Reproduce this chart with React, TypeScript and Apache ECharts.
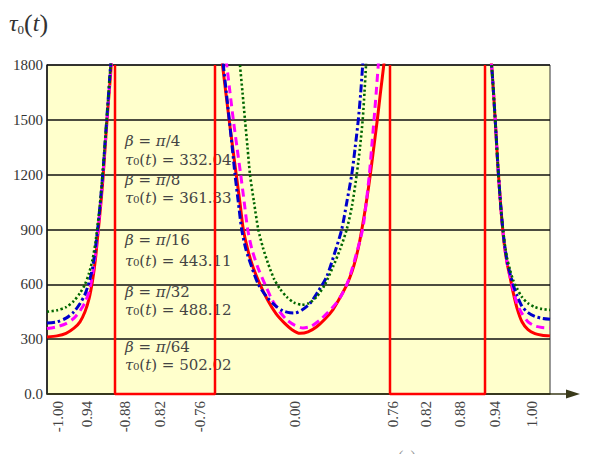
import React, { useEffect, useRef } from "react";
import * as echarts from "echarts";

// Abscissa runs along the plot as a 0..100 position scale; tick labels are placed on it.
const tickPos = [2.19, 7.95, 15.51, 22.47, 30.42, 49.3, 68.79, 75.35, 82.11, 89.07, 96.42];
const tickText = ["-1.00", "0.94", "-0.88", "0.82", "-0.76", "0.00", "0.76", "0.82", "0.88", "0.94", "1.00"];

const yTicks = [0, 300, 600, 900, 1200, 1500, 1800];

// minimum of each curve, also printed in the annotations
const betaLabels = ["π/4", "π/8", "π/16", "π/32", "π/64"];
const tauMin = [332.04, 361.33, 443.11, 488.12, 502.02];

// left branch
const leftS = [0, 1.99, 3.78, 5.37, 6.56, 7.55, 8.35, 9.05, 9.64, 10.14, 10.64, 11.13, 11.63, 12.13, 12.62, 13.12];
const redLeft = [312, 318, 332, 360, 395, 450, 520, 620, 740, 880, 1020, 1180, 1380, 1570, 1740, 1950];
const magentaLeft = [358, 368, 385, 415, 455, 500, 560, 650, 770, 900, 1040, 1200, 1390, 1580, 1760, 1960];
const blueLeft = [388, 395, 415, 450, 495, 545, 610, 690, 800, 920, 1060, 1220, 1410, 1600, 1790, 1980];
const greenLeft = [450, 458, 475, 510, 552, 600, 660, 735, 830, 940, 1070, 1230, 1410, 1600, 1790, 1980];

// central well
const redMidS = [34.49, 34.89, 35.59, 36.28, 36.98, 37.67, 38.37, 39.03, 39.96, 40.95, 42.34, 43.94, 45.53, 47.32, 48.71, 50.3, 51.89, 53.62, 55.27, 56.86, 58.25, 59.64, 60.64, 61.43, 62.13, 62.72, 63.32, 63.92, 64.51, 65.11, 65.71, 66.3, 67.0, 67.3];
const redMid = [1900, 1800, 1640, 1485, 1335, 1190, 1045, 900, 785, 695, 600, 510, 440, 385, 352, tauMin[0], 340, 368, 410, 462, 527, 600, 670, 745, 830, 920, 1020, 1130, 1250, 1380, 1510, 1650, 1810, 1900];
const magentaMidS = [35.29, 35.73, 36.38, 37.04, 37.77, 38.51, 39.21, 39.9, 40.76, 41.95, 43.34, 44.67, 46.12, 47.71, 49.3, 50.89, 52.48, 54.27, 55.86, 57.59, 58.84, 59.9, 60.83, 61.63, 62.32, 62.88, 63.48, 64.08, 64.55, 65.01, 65.45, 65.86, 66.06];
const magentaMid = [1900, 1800, 1650, 1500, 1350, 1200, 1050, 900, 790, 690, 600, 520, 455, 405, 375, tauMin[1], 370, 405, 447, 500, 555, 620, 700, 780, 850, 920, 1050, 1200, 1350, 1500, 1650, 1800, 1870];
const blueMidS = [34.69, 35.05, 35.65, 36.24, 36.82, 37.38, 38.03, 38.71, 39.56, 40.7, 42.01, 43.68, 45.33, 46.92, 48.31, 49.3, 50.69, 52.29, 53.88, 55.61, 57.06, 58.59, 59.54, 60.58, 61.27, 61.89, 62.37, 62.76, 62.98];
const blueMid = [1900, 1800, 1650, 1500, 1350, 1200, 1050, 900, 790, 695, 600, 532, 485, 455, 444, tauMin[2], 460, 496, 560, 642, 760, 900, 1040, 1200, 1350, 1500, 1650, 1800, 1880];
const greenMidS = [38.17, 38.37, 38.87, 39.36, 39.86, 40.36, 41.15, 42.01, 42.94, 43.94, 45.13, 46.32, 47.71, 49.1, 50.64, 52.09, 53.62, 55.27, 56.86, 58.25, 59.58, 60.64, 61.57, 62.23, 62.76, 63.12, 63.42, 63.58];
const greenMid = [1900, 1800, 1650, 1500, 1350, 1200, 1050, 900, 800, 715, 630, 575, 530, 500, tauMin[3], 497, 532, 600, 696, 790, 900, 1030, 1200, 1350, 1500, 1650, 1800, 1880];

// right branch
const rightS = [87.87, 88.47, 89.07, 89.66, 90.26, 90.86, 91.45, 92.05, 92.64, 93.44, 94.43, 95.63, 97.02, 98.41, 100];
const redRight = [1950, 1770, 1517, 1240, 1010, 830, 720, 640, 560, 470, 395, 352, 330, 322, 318];
const magentaRight = [1950, 1770, 1517, 1240, 1010, 830, 720, 645, 575, 495, 440, 395, 372, 364, 361];
const blueRight = [1950, 1770, 1517, 1240, 1010, 840, 730, 660, 600, 540, 480, 445, 424, 414, 409];
const greenRight = [1950, 1770, 1517, 1240, 1010, 850, 745, 680, 625, 578, 530, 496, 475, 465, 460];

// red frames marking the excluded intervals
const boxSpans = [
  [13.52, 33.4],
  [68.19, 87.08],
];

const zip = (xs: number[], ys: number[]) => xs.map((x, i) => [x, ys[i]]);

const curveStyles = [
  { color: "#FF0000", width: 3, type: "solid" as any },
  { color: "#FF00FF", width: 3, type: [8, 5] as any },
  { color: "#0000CC", width: 3, type: [8, 3, 2.5, 3] as any },
  { color: "#006600", width: 2.6, type: [2.2, 2.4] as any },
];

const curveSegments = [
  [zip(leftS, redLeft), zip(redMidS, redMid), zip(rightS, redRight)],
  [zip(leftS, magentaLeft), zip(magentaMidS, magentaMid), zip(rightS, magentaRight)],
  [zip(leftS, blueLeft), zip(blueMidS, blueMid), zip(rightS, blueRight)],
  [zip(leftS, greenLeft), zip(greenMidS, greenMid), zip(rightS, greenRight)],
];

const annBetaY = [141, 180, 240, 292, 347];
const annTauY = [160, 198, 261, 310, 365];

export default function App() {
  const ref = useRef<HTMLDivElement>(null);

  useEffect(() => {
    if (!ref.current) return;
    const chart = echarts.init(ref.current, undefined, { renderer: "svg" });

    const series: any[] = [];
    curveSegments.forEach((segs, ci) => {
      segs.forEach((data) => {
        series.push({
          type: "line",
          data,
          showSymbol: false,
          symbol: "none",
          smooth: 0.25,
          lineStyle: curveStyles[ci],
          z: 3,
        });
      });
    });
    boxSpans.forEach(([a, b]) => {
      series.push({
        type: "line",
        data: [
          [a, 1800],
          [a, 0],
          [b, 0],
          [b, 1800],
        ],
        symbol: "none",
        clip: false,
        lineStyle: { color: "#FF0000", width: 2.5 },
        z: 4,
      });
    });

    const annFont = "'DejaVu Serif', serif";
    const annRich = {
      i: { fontStyle: "italic", fontFamily: annFont, fontSize: 15, lineHeight: 16, fill: "#444" },
      r: { fontFamily: annFont, fontSize: 15, lineHeight: 16, fill: "#444" },
    };
    const annotations: any[] = [];
    betaLabels.forEach((b, k) => {
      const [num, den] = b.split("/");
      annotations.push({
        type: "text",
        x: 125,
        y: annBetaY[k],
        z: 1,
        style: {
          text: `{i|β}{r| = }{i|${num}}{r|/${den}}`,
          rich: annRich,
          verticalAlign: "middle",
        },
      });
      annotations.push({
        type: "text",
        x: 125,
        y: annTauY[k],
        z: 1,
        style: {
          text: `{i|τ}{r|₀(}{i|t}{r|) = ${tauMin[k].toFixed(2)}}`,
          rich: annRich,
          verticalAlign: "middle",
        },
      });
    });

    chart.setOption({
      animation: false,
      backgroundColor: "#ffffff",
      grid: {
        left: 47,
        right: 40,
        top: 65,
        bottom: 60,
        show: true,
        backgroundColor: "#FFFFCC",
        borderColor: "#333",
        borderWidth: 1,
      },
      xAxis: {
        type: "value",
        min: 0,
        max: 100,
        splitLine: { show: false },
        axisTick: { show: false },
        axisLine: { show: true, lineStyle: { color: "#3a3a1a", width: 1.5 } },
        axisLabel: {
          customValues: tickPos,
          rotate: 90,
          margin: 7,
          fontFamily: "'Liberation Serif', serif",
          fontSize: 15,
          color: "#444",
          formatter: (v: number) => {
            const i = tickPos.findIndex((p) => Math.abs(p - v) < 1e-6);
            return i >= 0 ? tickText[i] : "";
          },
        },
      },
      yAxis: {
        type: "value",
        min: 0,
        max: 1800,
        interval: 300,
        axisTick: { show: false },
        axisLine: { show: true, lineStyle: { color: "#111", width: 1.5 } },
        splitLine: { show: true, lineStyle: { color: "#111", width: 1.5 } },
        axisLabel: {
          margin: 4,
          fontFamily: "'Liberation Serif', serif",
          fontSize: 15,
          color: "#333",
          customValues: yTicks,
          formatter: (v: number) => (v === 0 ? "0.0" : String(v)),
        },
      },
      graphic: [
        {
          type: "text",
          x: 9,
          y: 10,
          style: {
            text: "{i|τ}{s|0}{n|(}{i|t}{n|)}",
            rich: {
              i: { fontFamily: "'Liberation Serif', serif", fontStyle: "italic", fontSize: 24, fill: "#333" },
              s: { fontFamily: "'Liberation Serif', serif", fontSize: 13, fill: "#333", padding: [12, 0, 0, 0] },
              n: { fontFamily: "'Liberation Serif', serif", fontSize: 26, fill: "#333" },
            },
          },
        },
        {
          type: "line",
          shape: { x1: 550, y1: 394, x2: 570, y2: 394 },
          style: { stroke: "#3a3a1a", lineWidth: 1.5 },
        },
        {
          type: "polygon",
          shape: { points: [[566, 389.5], [580, 394], [566, 398.5]] },
          style: { fill: "#3a3a1a" },
        },
        {
          type: "text",
          x: 398,
          y: 448,
          style: { text: "(a)", font: "16px 'Liberation Serif', serif", fill: "#999" },
        },
        ...annotations,
      ],
      series,
    });

    return () => chart.dispose();
  }, []);

  return (
    <div
      ref={ref}
      style={{ position: "fixed", left: 0, top: 0, width: 590, height: 454 }}
    />
  );
}
